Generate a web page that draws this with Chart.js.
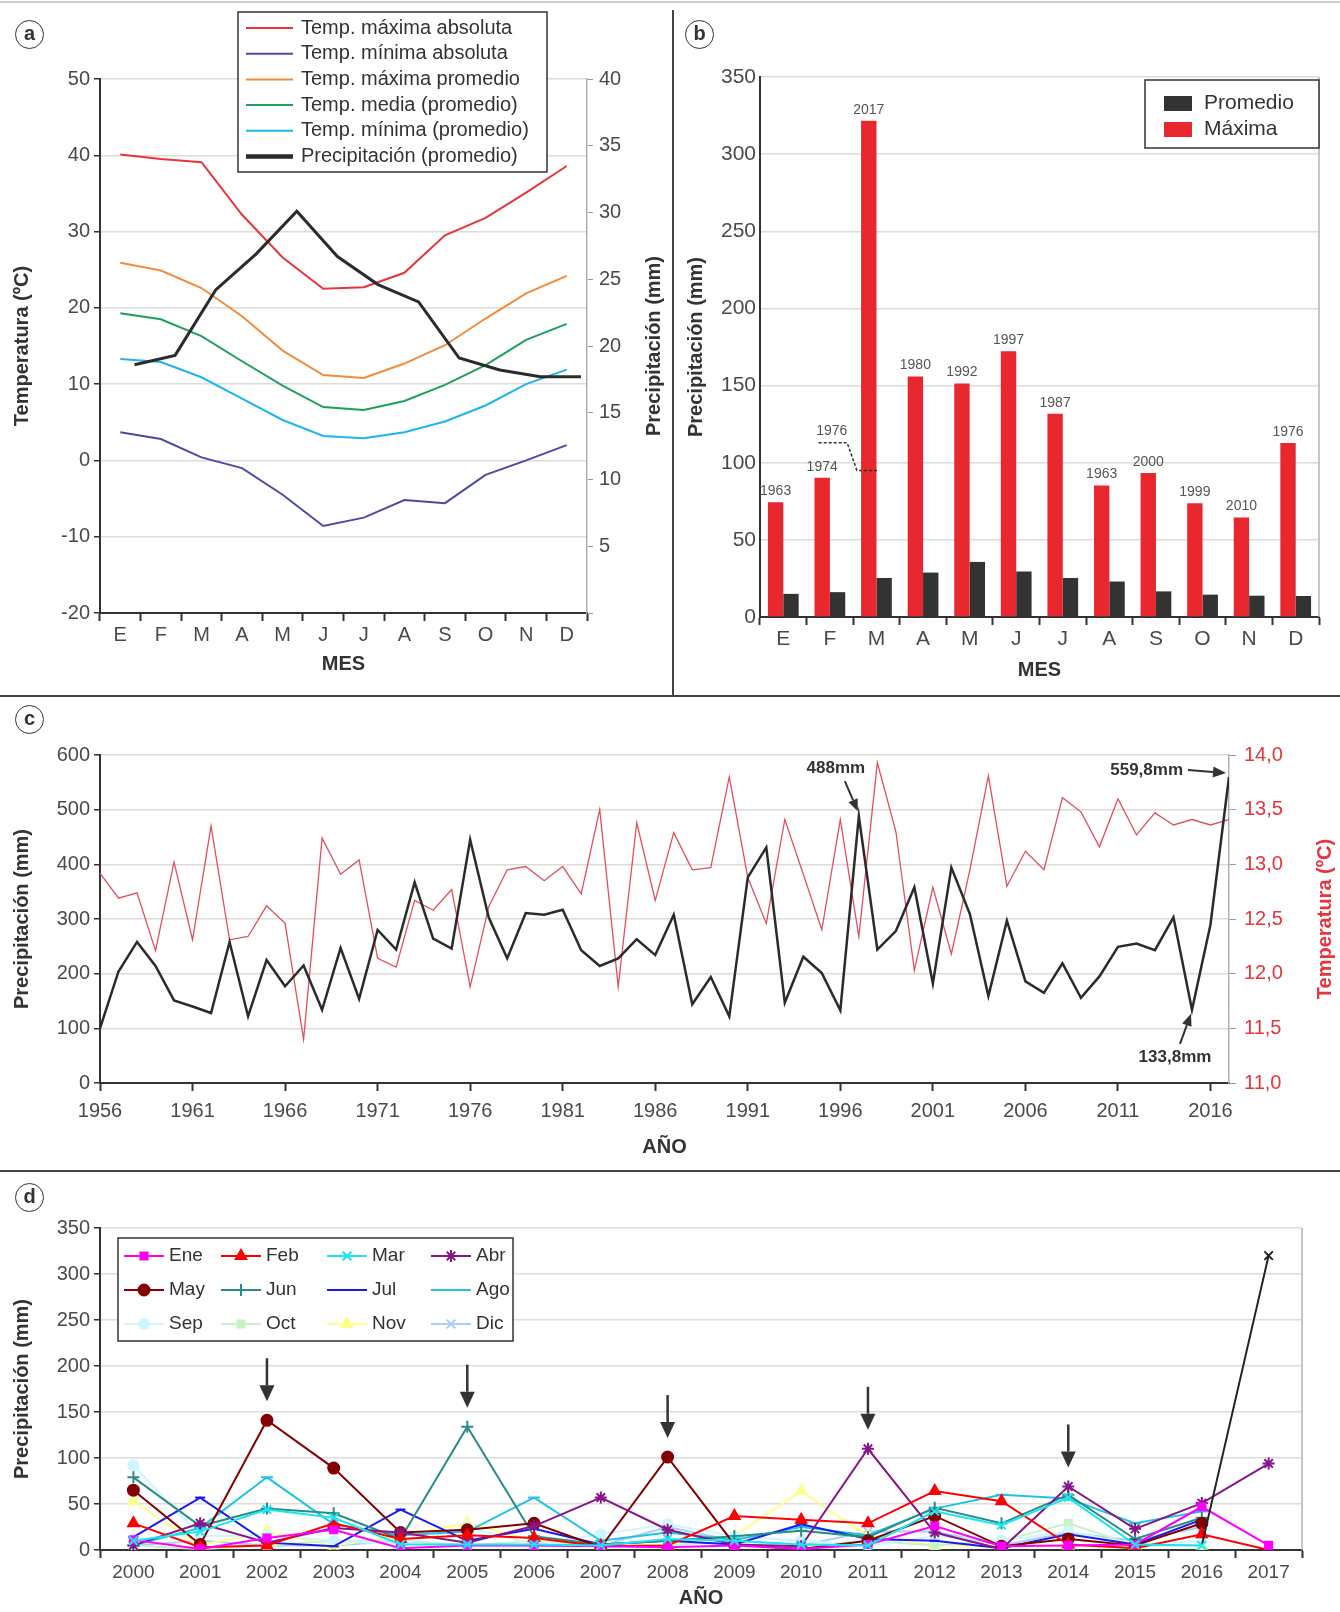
<!DOCTYPE html>
<html>
<head>
<meta charset="utf-8">
<script src="https://cdn.jsdelivr.net/npm/chart.js@4.4.1/dist/chart.umd.min.js"></script>
<style>
  body { margin: 0; background: #fff; width: 1340px; height: 1612px; position: relative; overflow: hidden; font-family: "Liberation Sans", Arial, sans-serif; }
  canvas { position: absolute; }
  .tag { position: absolute; width: 27px; height: 27px; border: 1.6px solid #333; border-radius: 50%; font: bold 20px "Liberation Sans", Arial, sans-serif; color: #333; text-align: center; line-height: 25px; }
  .rule { position: absolute; background: #444; }
</style>
</head>
<body>
<div class="rule" style="left:0;top:1px;width:1340px;height:2px;background:#ccc"></div>
<div class="rule" style="left:672px;top:10px;width:2px;height:686px"></div>
<div class="rule" style="left:0;top:695px;width:1340px;height:2px"></div>
<div class="rule" style="left:0;top:1170px;width:1340px;height:2px"></div>

<canvas id="ca" width="672" height="695" style="left:0;top:0"></canvas>
<canvas id="cb" width="666" height="695" style="left:674px;top:0"></canvas>
<canvas id="cc" width="1340" height="473" style="left:0;top:697px"></canvas>
<canvas id="cd" width="1340" height="440" style="left:0;top:1172px"></canvas>

<div class="tag" style="left:15px;top:20px">a</div>
<div class="tag" style="left:685px;top:20px">b</div>
<div class="tag" style="left:15px;top:705px">c</div>
<div class="tag" style="left:15px;top:1183px">d</div>

<script>
/* ---- data ---- */
const MESES = ['E', 'F', 'M', 'A', 'M', 'J', 'J', 'A', 'S', 'O', 'N', 'D'];

// (a) monthly climate
const T_MAX_ABS = [40.1, 39.5, 39.1, 32.2, 26.6, 22.5, 22.7, 24.6, 29.5, 31.8, 35.1, 38.6];
const T_MIN_ABS = [3.7, 2.8, 0.4, -1.0, -4.5, -8.6, -7.5, -5.2, -5.6, -1.9, 0.0, 2.0];
const T_MAX_PROM = [25.9, 24.9, 22.6, 18.9, 14.4, 11.2, 10.8, 12.7, 15.1, 18.6, 21.9, 24.2];
const T_MEDIA = [19.3, 18.5, 16.3, 13.0, 9.8, 7.0, 6.6, 7.8, 9.9, 12.5, 15.8, 17.9];
const T_MIN_PROM = [13.3, 12.9, 10.9, 8.1, 5.3, 3.2, 2.9, 3.7, 5.1, 7.2, 10.0, 11.9];
const PP_PROM_MES = [18.6, 19.3, 24.2, 26.9, 30.1, 26.7, 24.6, 23.3, 19.1, 18.2, 17.7, 17.7];
const PP_SHIFT = 0.35; // precipitation curve is drawn shifted inside each month

// (b) monthly precipitation
const PP_MAXIMA = [74.4, 90.3, 321.7, 155.9, 151.3, 172.2, 131.7, 85.2, 93.3, 73.7, 64.5, 112.8];
const PP_PROMEDIO = [15.0, 16.1, 25.3, 28.8, 35.7, 29.5, 25.3, 23.0, 16.6, 14.5, 13.8, 13.6];
const ANIO_MAXIMA = ['1963', '1974', '2017', '1980', '1992', '1997', '1987', '1963', '2000', '1999', '2010', '1976'];

// (c) annual series
const ANIOS_C = [1956, 1957, 1958, 1959, 1960, 1961, 1962, 1963, 1964, 1965,
  1966, 1967, 1968, 1969, 1970, 1971, 1972, 1973, 1974, 1975,
  1976, 1977, 1978, 1979, 1980, 1981, 1982, 1983, 1984, 1985,
  1986, 1987, 1988, 1989, 1990, 1991, 1992, 1993, 1994, 1995,
  1996, 1997, 1998, 1999, 2000, 2001, 2002, 2003, 2004, 2005,
  2006, 2007, 2008, 2009, 2010, 2011, 2012, 2013, 2014, 2015, 2016, 2017];
const PP_ANUAL = [100, 204, 258, 214, 151, 140, 128, 258, 122, 225,
  177, 215, 134, 247, 154, 280, 244, 367, 264, 246,
  445, 303, 228, 311, 308, 317, 243, 214, 228, 263,
  234, 308, 144, 194, 122, 376, 431, 147, 231, 201,
  133, 488, 244, 278, 358, 182, 394, 309, 159, 297,
  186, 165, 219, 156, 195, 249, 255, 243, 303, 133.8, 290, 559.8];
const T_ANUAL = [12.92, 12.69, 12.74, 12.21, 13.02, 12.31, 13.35, 12.31, 12.34, 12.62,
  12.46, 11.40, 13.24, 12.91, 13.04, 12.14, 12.06, 12.67, 12.58, 12.77,
  11.88, 12.61, 12.95, 12.98, 12.85, 12.98, 12.73, 13.50, 11.88, 13.38,
  12.67, 13.29, 12.95, 12.97, 13.80, 12.88, 12.46, 13.41, 12.91, 12.40,
  13.41, 12.34, 13.93, 13.30, 12.03, 12.79, 12.18, 12.95, 13.81, 12.80,
  13.12, 12.95, 13.61, 13.48, 13.16, 13.60, 13.27, 13.47, 13.36, 13.41, 13.36, 13.41];
const TICKS_C = [1956, 1961, 1966, 1971, 1976, 1981, 1986, 1991, 1996, 2001, 2006, 2011, 2016];
const NOTAS_C = [
  { year: 1997, text: '488mm' },
  { year: 2017, text: '559,8mm' },
  { year: 2015, text: '133,8mm' }
];

// (d) monthly precipitation per year
const ANIOS_D = ['2000', '2001', '2002', '2003', '2004', '2005', '2006', '2007', '2008',
  '2009', '2010', '2011', '2012', '2013', '2014', '2015', '2016', '2017'];
const ENE = [11, 1, 13, 22, 2, 5, 5, 4, 3, 5, 1, 6, 26, 4, 5, 6, 47, 5];
const FEB = [29, 3, 5, 29, 12, 16, 13, 4, 5, 37, 33, 29, 64, 53, 6, 2, 17, 0];
const MAR = [10, 20, 44, 35, 6, 6, 6, 5, 12, 10, 6, 5, 42, 27, 57, 6, 5, 320];
const ABR = [5, 29, 8, 24, 19, 8, 26, 57, 22, 6, 4, 110, 19, 1, 69, 23, 51, 94];
const MAY = [65, 6, 141, 89, 19, 22, 29, 3, 101, 6, 1, 10, 37, 4, 12, 5, 29, null];
const JUN = [79, 26, 45, 40, 12, 134, 15, 6, 10, 15, 21, 14, 46, 29, 60, 12, 35, null];
const JUL = [14, 57, 8, 4, 44, 10, 23, 6, 10, 6, 28, 12, 10, 2, 17, 6, 33, null];
const AGO = [5, 24, 79, 28, 16, 20, 57, 10, 19, 11, 25, 16, 45, 60, 56, 29, 42, null];
const SEP = [92, 15, 16, 10, 6, 25, 6, 17, 28, 15, 10, 5, 15, 10, 20, 6, 10, null];
const OCT = [5, 1, 5, 10, 10, 5, 10, 5, 5, 10, 5, 10, 5, 10, 29, 5, 5, null];
const NOV = [53, 5, 20, 5, 15, 29, 10, 8, 5, 15, 64, 15, 5, 5, 5, 5, 5, null];
const DIC = [5, 10, 5, 5, 10, 5, 5, 5, 25, 10, 5, 20, 20, 5, 19, 10, 25, null];
const FLECHAS_D = ['2002', '2005', '2008', '2011', '2014'];

/* ---- shared helpers ---- */
const FONT = '"Liberation Sans", Arial, sans-serif';
Chart.defaults.font.family = FONT;
Chart.defaults.color = '#4a4a4a';

function axisTitle(text, size, padding, color) {
  return { display: true, text, color: color || '#333', font: { size, weight: 'bold' }, padding };
}

function drawArrow(ctx, x1, y1, x2, y2, headLen, headW) {
  const a = Math.atan2(y2 - y1, x2 - x1);
  const bx = x2 - headLen * Math.cos(a);
  const by = y2 - headLen * Math.sin(a);
  ctx.beginPath();
  ctx.moveTo(x1, y1);
  ctx.lineTo(bx, by);
  ctx.stroke();
  ctx.beginPath();
  ctx.moveTo(x2, y2);
  ctx.lineTo(bx + headW / 2 * Math.sin(a), by - headW / 2 * Math.cos(a));
  ctx.lineTo(bx - headW / 2 * Math.sin(a), by + headW / 2 * Math.cos(a));
  ctx.closePath();
  ctx.fill();
}

// right-hand axis title, read bottom to top like the left one
function rightTitle(text, x, color) {
  return {
    id: 'rightTitle',
    afterDraw(chart) {
      const { ctx, chartArea: a } = chart;
      ctx.save();
      ctx.translate(x, (a.top + a.bottom) / 2);
      ctx.rotate(-Math.PI / 2);
      ctx.fillStyle = color;
      ctx.font = 'bold 20px ' + FONT;
      ctx.textAlign = 'center';
      ctx.textBaseline = 'middle';
      ctx.fillText(text, 0, 0);
      ctx.restore();
    }
  };
}

// light line on the right side of the plot frame
const rightEdge = {
  id: 'rightEdge',
  beforeDatasetsDraw(chart) {
    const { ctx, chartArea: a } = chart;
    ctx.save();
    ctx.strokeStyle = '#b5b5b5';
    ctx.lineWidth = 1.5;
    ctx.beginPath();
    ctx.moveTo(a.right, a.top);
    ctx.lineTo(a.right, a.bottom);
    ctx.stroke();
    ctx.restore();
  }
};

/* ---- (a) ---- */
const legendA = {
  id: 'legendA',
  afterDraw(chart) {
    const ctx = chart.ctx;
    ctx.save();
    ctx.fillStyle = '#fff';
    ctx.strokeStyle = '#333';
    ctx.lineWidth = 1.5;
    ctx.fillRect(238, 12, 309, 160);
    ctx.strokeRect(238, 12, 309, 160);
    ctx.font = '20px ' + FONT;
    ctx.textBaseline = 'middle';
    chart.data.datasets.forEach((ds, i) => {
      const y = 28 + i * 25.7;
      ctx.strokeStyle = ds.borderColor;
      ctx.lineWidth = ds.borderWidth > 2 ? 4.5 : 2;
      ctx.beginPath();
      ctx.moveTo(246, y);
      ctx.lineTo(293, y);
      ctx.stroke();
      ctx.fillStyle = '#333';
      ctx.fillText(ds.label, 301, y);
    });
    ctx.restore();
  }
};

new Chart(document.getElementById('ca'), {
  type: 'line',
  data: {
    labels: MESES,
    datasets: [
      { label: 'Temp. máxima absoluta', data: T_MAX_ABS, borderColor: '#e8343c', order: 1 },
      { label: 'Temp. mínima absoluta', data: T_MIN_ABS, borderColor: '#4b4ba3', order: 1 },
      { label: 'Temp. máxima promedio', data: T_MAX_PROM, borderColor: '#f28c3a', order: 1 },
      { label: 'Temp. media (promedio)', data: T_MEDIA, borderColor: '#1ba15b', order: 1 },
      { label: 'Temp. mínima (promedio)', data: T_MIN_PROM, borderColor: '#1eb4ef', order: 1 },
      {
        label: 'Precipitación (promedio)',
        data: PP_PROM_MES.map((v, i) => ({ x: i + PP_SHIFT, y: v })),
        xAxisID: 'xp', yAxisID: 'yp', borderColor: '#2b2b2b', borderWidth: 3, order: 0
      }
    ]
  },
  options: {
    responsive: false,
    animation: false,
    layout: { padding: { top: 79 } },
    elements: { point: { radius: 0 }, line: { borderWidth: 2, tension: 0 } },
    plugins: { legend: { display: false }, tooltip: { enabled: false } },
    scales: {
      x: {
        offset: true,
        grid: { offset: true, drawOnChartArea: false, tickLength: 8, tickWidth: 2, tickColor: '#333' },
        border: { color: '#333', width: 2 },
        ticks: { font: { size: 20 }, padding: 2 },
        title: axisTitle('MES', 20, { top: 0, bottom: 19 }),
        afterFit(s) { s.height = 82; }
      },
      xp: { type: 'linear', display: false, min: -0.5, max: 11.5 },
      y: {
        min: -20, max: 50,
        ticks: { stepSize: 10, font: { size: 20 }, padding: 4 },
        grid: { color: '#dcdcdc', lineWidth: 1.5, tickLength: 6, tickColor: '#333' },
        border: { color: '#333', width: 2 },
        title: axisTitle('Temperatura (ºC)', 20, { top: 10, bottom: 0 }),
        afterFit(s) { s.width = 100; }
      },
      yp: {
        position: 'right',
        min: 0, max: 40,
        ticks: { stepSize: 5, font: { size: 20 }, padding: 6, callback: v => (v === 0 ? '' : v) },
        grid: { drawOnChartArea: false, tickLength: 6, tickColor: '#999' },
        border: { color: '#b0b0b0', width: 1.5 },
        afterFit(s) { s.width = 85; }
      }
    }
  },
  plugins: [legendA, rightTitle('Precipitación (mm)', 654, '#333')]
});

/* ---- (b) ---- */
const labelsB = {
  id: 'labelsB',
  afterDatasetsDraw(chart) {
    const ctx = chart.ctx;
    const meta = chart.getDatasetMeta(0);
    const { x, y } = chart.scales;
    ctx.save();
    ctx.fillStyle = '#555';
    ctx.font = '14px ' + FONT;
    ctx.textAlign = 'center';
    ctx.textBaseline = 'bottom';
    meta.data.forEach((bar, i) => ctx.fillText(ANIO_MAXIMA[i], bar.x, bar.y - 4));
    // 1976 note pointing at March
    ctx.fillText('1976', x.getPixelForValue(1.04), y.getPixelForValue(116));
    ctx.strokeStyle = '#333';
    ctx.lineWidth = 1.5;
    ctx.setLineDash([3, 2]);
    ctx.beginPath();
    ctx.moveTo(x.getPixelForValue(0.76), y.getPixelForValue(113));
    ctx.lineTo(x.getPixelForValue(1.37), y.getPixelForValue(113));
    ctx.lineTo(x.getPixelForValue(1.58), y.getPixelForValue(95));
    ctx.lineTo(x.getPixelForValue(2.06), y.getPixelForValue(95));
    ctx.stroke();
    ctx.restore();
  },
  afterDraw(chart) {
    const ctx = chart.ctx;
    ctx.save();
    ctx.fillStyle = '#fff';
    ctx.strokeStyle = '#333';
    ctx.lineWidth = 1.5;
    ctx.fillRect(471, 80, 174, 68);
    ctx.strokeRect(471, 80, 174, 68);
    ctx.font = '21px ' + FONT;
    ctx.textBaseline = 'middle';
    [chart.data.datasets[1], chart.data.datasets[0]].forEach((ds, i) => {
      const yy = 103 + i * 26;
      ctx.fillStyle = ds.backgroundColor;
      ctx.fillRect(490, yy - 7, 28, 15);
      ctx.fillStyle = '#333';
      ctx.fillText(ds.label, 530, yy);
    });
    ctx.restore();
  }
};

new Chart(document.getElementById('cb'), {
  type: 'bar',
  data: {
    labels: MESES,
    datasets: [
      { label: 'Máxima', data: PP_MAXIMA, backgroundColor: '#e8272f' },
      { label: 'Promedio', data: PP_PROMEDIO, backgroundColor: '#333333' }
    ]
  },
  options: {
    responsive: false,
    animation: false,
    layout: { padding: { top: 77, right: 21 } },
    datasets: { bar: { categoryPercentage: 0.66, barPercentage: 1.0 } },
    plugins: { legend: { display: false }, tooltip: { enabled: false } },
    scales: {
      x: {
        grid: { offset: true, drawOnChartArea: false, tickLength: 8, tickWidth: 2, tickColor: '#333' },
        border: { color: '#333', width: 2 },
        ticks: { font: { size: 21 }, padding: 2 },
        title: axisTitle('MES', 20, { top: 0, bottom: 13 }),
        afterFit(s) { s.height = 78; }
      },
      y: {
        min: 0, max: 350,
        ticks: { stepSize: 50, font: { size: 21 }, padding: 4 },
        grid: { color: '#dcdcdc', lineWidth: 1.5, drawTicks: false },
        border: { color: '#333', width: 2 },
        title: axisTitle('Precipitación (mm)', 20, { top: 10, bottom: 0 }),
        afterFit(s) { s.width = 86; }
      }
    }
  },
  plugins: [rightEdge, labelsB]
});

/* ---- (c) ---- */
const notesC = {
  id: 'notesC',
  afterDatasetsDraw(chart) {
    const ctx = chart.ctx;
    const pts = chart.getDatasetMeta(0).data;
    const at = year => pts[ANIOS_C.indexOf(year)];
    ctx.save();
    ctx.fillStyle = '#333';
    ctx.strokeStyle = '#333';
    ctx.lineWidth = 2;
    ctx.font = 'bold 17px ' + FONT;
    ctx.textBaseline = 'middle';
    const [n1, n2, n3] = NOTAS_C;
    let p = at(n1.year);
    ctx.textAlign = 'center';
    ctx.fillText(n1.text, p.x - 23, p.y - 48);
    drawArrow(ctx, p.x - 14, p.y - 35, p.x - 1, p.y - 5, 12, 10);
    p = at(n2.year);
    ctx.textAlign = 'right';
    ctx.fillText(n2.text, p.x - 46, p.y - 7);
    drawArrow(ctx, p.x - 41, p.y - 7, p.x - 3, p.y - 4, 13, 11);
    p = at(n3.year);
    ctx.textAlign = 'center';
    ctx.fillText(n3.text, p.x - 17, p.y + 47);
    drawArrow(ctx, p.x - 12, p.y + 34, p.x - 1, p.y + 4, 12, 10);
    ctx.restore();
  }
};

new Chart(document.getElementById('cc'), {
  type: 'line',
  data: {
    datasets: [
      { label: 'Precipitación', data: ANIOS_C.map((yr, i) => ({ x: yr, y: PP_ANUAL[i] })), borderColor: '#2b2b2b', borderWidth: 2.5, yAxisID: 'y' },
      { label: 'Temperatura', data: ANIOS_C.map((yr, i) => ({ x: yr, y: T_ANUAL[i] })), borderColor: '#e0505e', borderWidth: 1.3, yAxisID: 'y2' }
    ]
  },
  options: {
    responsive: false,
    animation: false,
    layout: { padding: { top: 58 } },
    elements: { point: { radius: 0 }, line: { tension: 0 } },
    plugins: { legend: { display: false }, tooltip: { enabled: false } },
    scales: {
      x: {
        type: 'linear', min: 1956, max: 2017,
        afterBuildTicks(s) { s.ticks = TICKS_C.map(v => ({ value: v })); },
        ticks: { font: { size: 20 }, padding: 8, maxRotation: 0, autoSkip: false, callback: v => String(v) },
        grid: { drawOnChartArea: false, tickLength: 8, tickWidth: 2, tickColor: '#333' },
        border: { color: '#333', width: 2 },
        title: axisTitle('AÑO', 20, { top: 0, bottom: 11 }),
        afterFit(s) { s.height = 87; }
      },
      y: {
        min: 0, max: 600,
        ticks: { stepSize: 100, font: { size: 20 }, padding: 4 },
        grid: { color: '#dcdcdc', lineWidth: 1.5, tickLength: 6, tickColor: '#333' },
        border: { color: '#333', width: 2 },
        title: axisTitle('Precipitación (mm)', 20, { top: 10, bottom: 0 }),
        afterFit(s) { s.width = 100; }
      },
      y2: {
        position: 'right',
        min: 11, max: 14,
        ticks: { stepSize: 0.5, font: { size: 20 }, color: '#e8343c', padding: 8, callback: v => v.toFixed(1).replace('.', ',') },
        grid: { drawOnChartArea: false, tickLength: 7, tickColor: '#999' },
        border: { color: '#b0b0b0', width: 1.5 },
        afterFit(s) { s.width = 111; }
      }
    }
  },
  plugins: [notesC, rightTitle('Temperatura (ºC)', 1325, '#e8343c')]
});

/* ---- (d) ---- */
const SERIES_D = [
  { label: 'Ene', data: ENE }, { label: 'Feb', data: FEB }, { label: 'Mar', data: MAR }, { label: 'Abr', data: ABR },
  { label: 'May', data: MAY }, { label: 'Jun', data: JUN }, { label: 'Jul', data: JUL }, { label: 'Ago', data: AGO },
  { label: 'Sep', data: SEP }, { label: 'Oct', data: OCT }, { label: 'Nov', data: NOV }, { label: 'Dic', data: DIC }
];
const STYLE_D = [
  { color: '#ff00ff', point: 'rect', r: 5 },
  { color: '#ff0000', point: 'triangle', r: 6 },
  { color: '#19e6f0', point: 'crossRot', r: 6 },
  { color: '#86168a', point: 'star', r: 6 },
  { color: '#840000', point: 'circle', r: 5.5 },
  { color: '#2a8c86', point: 'cross', r: 6 },
  { color: '#1a1aee', point: 'line', r: 5 },
  { color: '#22c2e4', point: 'line', r: 6 },
  { color: '#cdf6ff', point: 'circle', r: 5 },
  { color: '#c8f2c8', point: 'rect', r: 5 },
  { color: '#ffff8c', point: 'triangle', r: 6 },
  { color: '#a9cff2', point: 'crossRot', r: 6 }
];
const MARKED = '#222';

const extrasD = {
  id: 'extrasD',
  afterDatasetsDraw(chart) {
    const ctx = chart.ctx;
    const { x, y } = chart.scales;
    ctx.save();
    ctx.fillStyle = '#333';
    ctx.strokeStyle = '#333';
    ctx.lineWidth = 2.5;
    FLECHAS_D.forEach(yr => {
      const i = ANIOS_D.indexOf(yr);
      const top = Math.max(...SERIES_D.map(s => s.data[i] || 0));
      const px = x.getPixelForValue(i);
      const tip = y.getPixelForValue(top) - 19;
      drawArrow(ctx, px, tip - 43, px, tip, 16, 15);
    });
    ctx.restore();
  },
  afterDraw(chart) {
    const ctx = chart.ctx;
    const h = Chart.helpers;
    ctx.save();
    ctx.fillStyle = '#fff';
    ctx.strokeStyle = '#333';
    ctx.lineWidth = 1.5;
    ctx.fillRect(118, 66, 395, 103);
    ctx.strokeRect(118, 66, 395, 103);
    ctx.font = '19px ' + FONT;
    ctx.textBaseline = 'middle';
    const cols = [124, 221, 327, 431];
    chart.data.datasets.forEach((ds, i) => {
      const st = STYLE_D[i];
      const cx = cols[i % 4];
      const cy = 84 + Math.floor(i / 4) * 34;
      ctx.strokeStyle = st.color;
      ctx.fillStyle = st.color;
      ctx.lineWidth = 2;
      ctx.beginPath();
      ctx.moveTo(cx, cy);
      ctx.lineTo(cx + 40, cy);
      ctx.stroke();
      if (h && h.drawPoint) {
        h.drawPoint(ctx, { pointStyle: st.point, radius: st.r, rotation: 0, borderWidth: 2 }, cx + 20, cy);
      }
      ctx.fillStyle = '#333';
      ctx.fillText(ds.label, cx + 45, cy);
    });
    ctx.restore();
  }
};

new Chart(document.getElementById('cd'), {
  type: 'line',
  data: {
    labels: ANIOS_D,
    datasets: SERIES_D.map((s, k) => {
      const st = STYLE_D[k];
      const ds = {
        label: s.label,
        data: s.data,
        borderColor: st.color,
        backgroundColor: st.color,
        pointStyle: st.point,
        pointRadius: st.r,
        pointBorderWidth: 2,
        pointBackgroundColor: st.color,
        pointBorderColor: st.color,
        borderWidth: 2
      };
      if (s.label === 'Mar') {
        // the 2017 March record is drawn in black
        ds.pointBorderColor = c => (c.dataIndex === ANIOS_D.length - 1 ? MARKED : st.color);
        ds.pointBackgroundColor = c => (c.dataIndex === ANIOS_D.length - 1 ? MARKED : st.color);
        ds.segment = { borderColor: c => (c.p1DataIndex === ANIOS_D.length - 1 ? MARKED : undefined) };
        ds.order = -1;
      }
      return ds;
    })
  },
  options: {
    responsive: false,
    animation: false,
    layout: { padding: { top: 56, right: 38 } },
    elements: { line: { tension: 0 } },
    plugins: { legend: { display: false }, tooltip: { enabled: false } },
    scales: {
      x: {
        offset: true,
        grid: { offset: true, drawOnChartArea: false, tickLength: 8, tickWidth: 2, tickColor: '#333' },
        border: { color: '#333', width: 2 },
        ticks: { font: { size: 19 }, padding: 3, maxRotation: 0, autoSkip: false },
        title: axisTitle('AÑO', 20, { top: 0, bottom: 2 }),
        afterFit(s) { s.height = 62; }
      },
      y: {
        min: 0, max: 350,
        ticks: { stepSize: 50, font: { size: 20 }, padding: 4 },
        grid: { color: '#dcdcdc', lineWidth: 1.5, tickLength: 6, tickColor: '#333' },
        border: { color: '#333', width: 2 },
        title: axisTitle('Precipitación (mm)', 20, { top: 10, bottom: 0 }),
        afterFit(s) { s.width = 100; }
      }
    }
  },
  plugins: [rightEdge, extrasD]
});
</script>
</body>
</html>
